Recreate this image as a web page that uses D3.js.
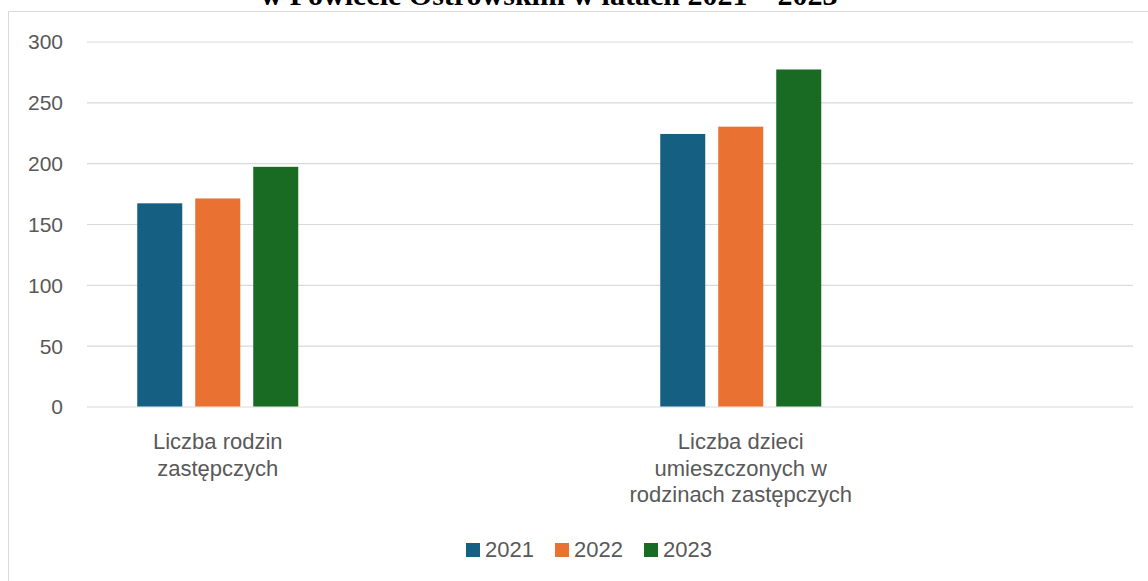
<!DOCTYPE html>
<html>
<head>
<meta charset="utf-8">
<script src="https://cdn.jsdelivr.net/npm/d3@7"></script>
<style>
  body { margin: 0; background: #fff; }
  svg { display: block; font-family: "Liberation Sans", Arial, sans-serif; }
</style>
</head>
<body>
<div id="chart"></div>
<script>
// chart data (blank slots are empty rows of the source sheet)
var title = "w Powiecie Ostrowskim w latach 2021 – 2023";
var categories = ["Liczba rodzin zastępczych", "", "Liczba dzieci umieszczonych w rodzinach zastępczych", " "];
var categoryLines = [["Liczba rodzin", "zastępczych"], [], ["Liczba dzieci", "umieszczonych w", "rodzinach zastępczych"], []];
var years = ["2021", "2022", "2023"];
var values2021 = [167, null, 224, null];
var values2022 = [171, null, 230, null];
var values2023 = [197, null, 277, null];
var yTicks = [0, 50, 100, 150, 200, 250, 300];
var colors = ["#156082", "#E97132", "#196B24"];

var W = 1148, H = 581;
var margin = {top: 41.5, left: 87, right: 15, bottom: 174};

var svg = d3.select("#chart").append("svg")
    .attr("width", W).attr("height", H);

// outer frame of the chart (only top and left edges are inside the picture)
svg.append("path")
    .attr("d", "M8.5," + H + "V11.5H" + W)
    .attr("fill", "none").attr("stroke", "#d9d9d9").attr("stroke-width", 1);

// title sits above the frame and is clipped by the top edge, as in the source
svg.append("text")
    .attr("x", 549).attr("y", 5)
    .attr("text-anchor", "middle")
    .style("font-family", "'Liberation Serif', 'Times New Roman', serif")
    .style("font-weight", "bold").style("font-size", "30px")
    .attr("fill", "#000")
    .text(title);

var x0 = d3.scaleBand().domain(categories)
    .range([margin.left, W - margin.right]);
var y = d3.scaleLinear().domain([0, 300])
    .range([406.5, margin.top]);

// inner scale for the three years inside one category
var groupW = 174;
var x1 = d3.scaleBand().domain(years).range([0, groupW])
    .paddingInner(0.224).paddingOuter(0.112);

// grid
var yAxis = d3.axisLeft(y).tickValues(yTicks).tickSize(-(W - margin.right - margin.left)).tickPadding(24);
var gy = svg.append("g").attr("transform", "translate(" + margin.left + ",0)").call(yAxis);
gy.select(".domain").remove();
gy.selectAll(".tick line").attr("stroke", "#d9d9d9").attr("stroke-width", 1.2);
gy.selectAll(".tick text").attr("fill", "#595959")
    .style("font-size", "21px").attr("dy", "0.35em");

// bars
var series = [values2021, values2022, values2023];
var rows = [];
series.forEach(function(vals, s) {
    vals.forEach(function(v, i) {
        if (v != null) rows.push({cat: categories[i], year: years[s], value: v, s: s});
    });
});

svg.append("g").selectAll("rect")
    .data(rows)
    .enter().append("rect")
        .attr("x", function(d) { return x0(d.cat) + (x0.bandwidth() - groupW) / 2 + x1(d.year); })
        .attr("y", function(d) { return y(d.value); })
        .attr("width", x1.bandwidth())
        .attr("height", function(d) { return y(0) - y(d.value); })
        .attr("fill", function(d) { return colors[d.s]; });

// category labels, wrapped like in the source
var xl = svg.append("g").selectAll("text")
    .data(categories)
    .enter().append("text")
        .attr("text-anchor", "middle")
        .attr("fill", "#595959")
        .style("font-size", "22px")
        .attr("x", function(d) { return x0(d) + x0.bandwidth() / 2; })
        .attr("y", 449);
xl.each(function(d, i) {
    var t = d3.select(this);
    categoryLines[i].forEach(function(line, k) {
        t.append("tspan")
            .attr("x", x0(d) + x0.bandwidth() / 2)
            .attr("dy", k == 0 ? 0 : 26.5)
            .text(line);
    });
});

// legend
var legend = svg.append("g").selectAll("g")
    .data(years)
    .enter().append("g")
        .attr("transform", function(d, i) { return "translate(" + (466 + i * 89) + ",543)"; });
legend.append("rect")
    .attr("width", 14).attr("height", 14)
    .attr("fill", function(d, i) { return colors[i]; });
legend.append("text")
    .attr("x", 19).attr("y", 14)
    .attr("fill", "#595959")
    .style("font-size", "22px")
    .text(function(d) { return d; });
</script>
</body>
</html>
